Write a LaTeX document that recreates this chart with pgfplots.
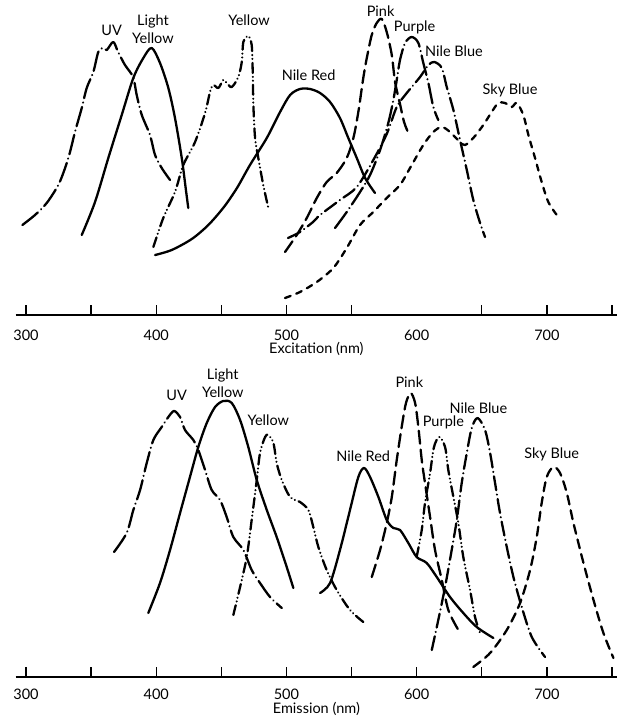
\documentclass[border=0pt]{standalone}
\usepackage{fontspec}
\setmainfont{Lato}
\usepackage{pgfplots}
\pgfplotsset{compat=1.18}

\newcommand{\lbl}{\fontsize{14.5}{18}\selectfont}

\pgfplotsset{
  spec/.style={
    scale only axis, width=601.6pt,
    xmin=292, xmax=754, ymin=0,
    axis x line=bottom, hide y axis, clip=false,
    x axis line style={-, line width=1.3pt},
    tick align=inside,
    major tick length=10pt, minor tick length=10pt,
    every tick/.append style={black, line width=1.3pt},
    minor xtick={350,450,...,750},
    xticklabel style={font=\lbl, yshift=-11pt},
    /pgf/number format/assume math mode=true,
    xlabel style={font=\lbl, at={(axis description cs:0.5,0)}, anchor=center, yshift=-34pt},
    every axis plot/.append style={line width=2.3pt, line cap=round, line join=round, smooth, tension=0.5},
  },
  solidc/.style={},
  ldashdot/.style={dash pattern=on 20pt off 4.5pt on 0.01pt off 4.5pt},
  dashdot/.style={dash pattern=on 14pt off 4.5pt on 0.01pt off 4.5pt},
  dashdotdot/.style={dash pattern=on 10pt off 4pt on 0.01pt off 3.8pt on 0.01pt off 4pt},
  longdash/.style={dash pattern=on 13pt off 6pt},
  shortdash/.style={dash pattern=on 6pt off 6pt},
  meddash/.style={dash pattern=on 9pt off 6pt},
}

\begin{document}
\begin{tikzpicture}[x=1pt,y=1pt]
\useasboundingbox (0,0) rectangle (618,716);

% ---------- excitation ----------
\begin{axis}[spec, at={(15.6pt,401pt)}, anchor=south west,
  height=300pt, ymax=300,
  xtick={300,400,500,700}, extra x ticks={600},
  extra x tick style={major tick length=0pt},
  xlabel={Excitation (nm)}]
\addplot[ldashdot] coordinates {(297.2,90) (306.9,100) (315.9,112) (324.8,130) (330,147) (333.8,163) (337.6,183) (342.8,207) (346.6,227) (351.7,243) (355.5,263) (359.1,267) (362,265) (367,273) (370.7,263) (376,250) (382.2,238) (385,220) (388.9,200) (395.2,180) (399.1,160) (404.2,147) (410.6,135)};
\addplot[solidc] coordinates {(342.8,80) (353,113) (363.2,157) (373.5,200) (382.4,237) (390.1,257) (396.5,267) (402.9,252) (409.3,227) (414.4,197) (419.6,157) (422.6,127) (424.6,107)};
\addplot[dashdotdot] coordinates {(397.8,68) (405.4,97) (414.4,123) (420.8,150) (429.8,173) (437.5,202) (441.3,223) (443.8,230) (447.7,227) (451.5,235) (454.1,232) (458,228) (463,238) (465.7,253) (466.9,273) (470.7,279) (473.3,270) (474.1,243) (474.6,210) (475.9,177) (478.4,157) (482.2,130) (486.1,107)};
\addplot[solidc] coordinates {(399.1,60) (411.9,65) (427.3,76) (440,90) (452,108) (462,127) (472,150) (484.9,177) (495.1,203) (502.8,220) (510.4,226) (518.1,226) (525.8,222) (533.5,213) (541.1,197) (547.5,177) (554,157) (560.4,137) (568,122)};
\addplot[longdash] coordinates {(498.9,63) (507.9,80) (515.6,97) (523.3,117) (530.9,133) (538.6,142) (546.3,157) (551.4,177) (555.2,203) (559,237) (561.7,257) (565.5,280) (569.3,292) (573.2,296) (577,283) (580.9,260) (583.4,233) (587.2,211) (590.3,193) (593.6,182)};
\addplot[ldashdot] coordinates {(537.3,87) (546.3,103) (556.5,123) (564.2,140) (571.9,165) (578.2,192) (582.1,215) (584.7,235) (587.2,255) (591.1,272) (596.2,278) (601.3,272) (605.1,252) (609,232) (612.8,208) (616.6,195)};
\addplot[dashdot] coordinates {(501.2,77) (510.4,83) (520.4,93) (525.8,100) (541.1,115) (554,128) (566.7,155) (577,181) (584.7,208) (592.4,222) (602.6,238) (609,250) (613.6,253) (619.3,247) (623.1,228) (628.2,205) (633.3,175) (638.5,145) (643.5,115) (648.7,92) (652.5,78)};
\addplot[shortdash] coordinates {(498.9,17) (510.4,23) (523.3,33) (536,47) (546.3,67) (556.5,90) (566.7,103) (577,117) (587.2,130) (594.9,147) (605.1,170) (612.8,183) (619.3,188) (625.6,183) (633.3,173) (637.2,170) (643.5,177) (651.2,190) (657.6,203) (662.7,212) (667.9,212) (673,208) (676.9,212) (681.9,200) (685.8,180) (690.9,157) (696,133) (701.1,113) (707.6,100)};
\node[font=\lbl] at (axis cs:365.8,285) {UV};
\node[font=\lbl, align=center] at (axis cs:397.5,285.5) {Light\\Yellow};
\node[font=\lbl] at (axis cs:471.3,295) {Yellow};
\node[font=\lbl] at (axis cs:517,240) {Nile Red};
\node[font=\lbl] at (axis cs:572.3,304) {Pink};
\node[font=\lbl] at (axis cs:598.4,288) {Purple};
\node[font=\lbl] at (axis cs:628.7,263.5) {Nile Blue};
\node[font=\lbl] at (axis cs:671.7,224.5) {Sky Blue};
\end{axis}

% ---------- emission ----------
\begin{axis}[spec, at={(15.6pt,39pt)}, anchor=south west,
  height=320pt, ymax=320,
  xtick={300,400,...,700},
  xticklabel style={yshift=3pt},
  xlabel={Emission (nm)},
  xlabel style={yshift=2.5pt}]
\addplot[ldashdot] coordinates {(367.6,125) (377.3,144) (382.4,167) (387.6,187) (392.7,214) (397.8,237) (404.2,250) (409.3,260) (413.7,266) (418.3,260) (422.1,247) (428.5,237) (432.3,227) (437.5,207) (442.6,187) (449,177) (454.1,160) (459.2,140) (466.9,127) (473.3,107) (479.7,94) (487.4,80) (496.4,69)};
\addplot[solidc] coordinates {(393.9,64) (402.9,94) (410.6,127) (418.3,164) (425.9,200) (432.3,230) (438.8,254) (445.2,270) (451.5,276) (458,274) (464.4,257) (470.7,230) (477.2,197) (484.9,167) (492.5,140) (500.2,110) (505.3,89)};
\addplot[dashdotdot] coordinates {(459.2,62) (464.4,90) (469.5,120) (473.3,157) (477.2,197) (479.7,224) (483.6,240) (486.1,242) (490,234) (492.5,214) (496.4,197) (502.8,180) (510.4,175) (516.8,167) (520.6,150) (524.5,130) (530.9,107) (538.6,87) (548.8,67) (559,55)};
\addplot[solidc] coordinates {(525.8,84) (533.5,94) (541.1,127) (548.8,167) (555.2,200) (559.6,209) (564.2,200) (570.6,180) (577,157) (582.1,149) (587.2,147) (593.6,134) (600,120) (607.7,114) (615.4,100) (625.6,80) (635.8,64) (646.1,50) (658.9,39)};
\addplot[longdash] coordinates {(565.5,100) (571.9,127) (577,154) (580.9,180) (584.7,217) (588.5,250) (591.8,274) (595.4,284) (598.8,274) (601.3,250) (603.9,217) (606.4,194) (610.3,160) (614.1,127) (619.3,97) (624.3,67) (632,47)};
\addplot[dashdotdot] coordinates {(600,120) (603.9,147) (606.4,174) (610.3,204) (613.3,230) (617.4,240) (621.8,230) (624.3,207) (628.2,180) (632,154) (635.8,120) (641,87) (644.8,60) (648.7,44)};
\addplot[dashdot] coordinates {(611.6,27) (616.6,57) (621.8,90) (626.9,127) (630.8,157) (634.6,194) (638.5,224) (642.3,249) (646.8,259) (652.5,247) (656.4,224) (660.2,194) (664,164) (669.2,130) (674.3,100) (680.7,70) (688.4,40) (698.6,20)};
\addplot[meddash] coordinates {(643.5,10) (656.4,24) (669.2,47) (679.4,74) (687.1,107) (692.2,140) (696,174) (699.9,200) (705,210) (710.1,204) (715.3,184) (720.4,154) (728.1,114) (735.8,77) (743.4,44) (751.1,19)};
\node[font=\lbl] at (axis cs:415.7,282) {UV};
\node[font=\lbl, align=center] at (axis cs:451.1,293.5) {Light\\Yellow};
\node[font=\lbl] at (axis cs:486.1,257) {Yellow};
\node[font=\lbl] at (axis cs:559,220.3) {Nile Red};
\node[font=\lbl] at (axis cs:594.4,295.3) {Pink};
\node[font=\lbl] at (axis cs:620.5,254.7) {Purple};
\node[font=\lbl] at (axis cs:647.4,268.7) {Nile Blue};
\node[font=\lbl] at (axis cs:703.7,223) {Sky Blue};
\end{axis}
\end{tikzpicture}
\end{document}
